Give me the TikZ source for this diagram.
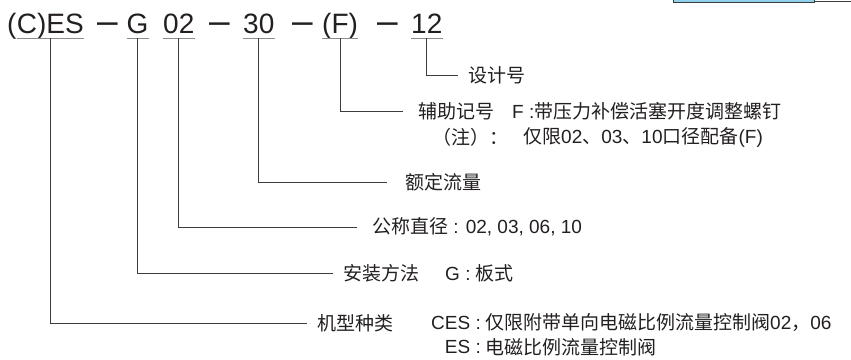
\documentclass[tikz,border=0pt]{standalone}
\usepackage{fontspec}
\setmainfont{Liberation Sans}
\newfontfamily\cjk{Noto Sans CJK SC}
\newcommand{\zh}[1]{{\cjk #1}}
\usepackage{xcolor}
\usepackage{tikz}
\usetikzlibrary{positioning}
\definecolor{inkgray}{HTML}{231F20}
\definecolor{rulegray}{HTML}{8C8C8C}
\definecolor{leadgray}{HTML}{3C3C3C}
\definecolor{tabblue}{HTML}{8FD0EC}

\begin{document}
\begin{tikzpicture}[
    x=1pt, y=1pt,
    code/.style={anchor=base west, inner xsep=0pt, inner ysep=5pt, text depth=0pt,
        font=\fontsize{28}{28}\selectfont, text=inkgray},
    dashsign/.style={code, font=\fontsize{37}{37}\selectfont},
    tag/.style={anchor=west, inner sep=0pt, font=\fontsize{19}{22}\selectfont, text=inkgray},
    uline/.style={rulegray, line width=1.3pt},
    lead/.style={leadgray, line width=1pt}
]
\useasboundingbox (0,0) rectangle (851,-359);

% strip at the top edge
\fill[tabblue] (673,0) rectangle (814,-2);
\draw[leadgray, line width=0.8pt] (673,0) -- (673,-2) -- (814,-2) -- (814,0);
\draw[leadgray, line width=0.8pt] (814,-1.6) -- (851,-1.6);

% model code
\node[code] (lp) at (7,-33) {(};
\node[code, base right=0pt of lp] (nces) {C)ES};
\node[dashsign] (d1) at (97,-33) {\textendash};
\node[code] (ng) at (126.5,-33) {G};
\node[code] (n02) at (163,-33) {02};
\node[dashsign] (d2) at (209,-33) {\textendash};
\node[code] (n30) at (243,-33) {30};
\node[dashsign] (d3) at (292,-33) {\textendash};
\node[code] (nf) at (322,-33) {(F)};
\node[dashsign] (d4) at (377,-33) {\textendash};
\node[code] (n12) at (411,-33) {12};

\foreach \n in {nces,ng,n02,n30,nf,n12}
    \draw[uline] (\n.south west) -- (\n.south east);

% explanations
\node[tag] (tdesign) at (468,-75) {\zh{设计号}};
\node[tag] (taux) at (418,-111) {\zh{辅助记号}};
\node[tag] (tauxf) at (512,-111) {F :\zh{带压力补偿活塞开度调整螺钉}};
\node[tag] (tnote) at (432,-137) {\zh{（注）：}};
\node[tag] (tnoteb) at (523,-137) {\zh{仅限}02\zh{、}03\zh{、}10\zh{口径配备}(F)};
\node[tag] (tflow) at (405,-182) {\zh{额定流量}};
\node[tag] (tdia) at (372,-227) {\zh{公称直径} : 02, 03, 06, 10};
\node[tag] (tmount) at (343,-273) {\zh{安装方法}};
\node[tag] (tmountg) at (445,-273) {G : \zh{板式}};
\node[tag] (ttype) at (317,-323) {\zh{机型种类}};
\node[tag, anchor=east] (tces) at (481,-323) {CES :};
\node[tag, right=4pt of tces] (tcesb) {\zh{仅限附带单向电磁比例流量控制阀}02\zh{，}06};
\node[tag, anchor=east] (tes) at (481,-347) {ES :};
\node[tag, right=4pt of tes] (tesb) {\zh{电磁比例流量控制阀}};

% leaders
\draw[lead, shorten >=10pt] (n12.south) |- (tdesign.west);
\draw[lead, shorten >=15pt] (nf.south) |- (taux.west);
\draw[lead, shorten >=18pt] (n30.south) |- (tflow.west);
\draw[lead, shorten >=15pt] (n02.south) |- (tdia.west);
\draw[lead, shorten >=10pt] (ng.south) |- (tmount.west);
\draw[lead, shorten >=10pt] (nces.south) |- (ttype.west);
\end{tikzpicture}
\end{document}
